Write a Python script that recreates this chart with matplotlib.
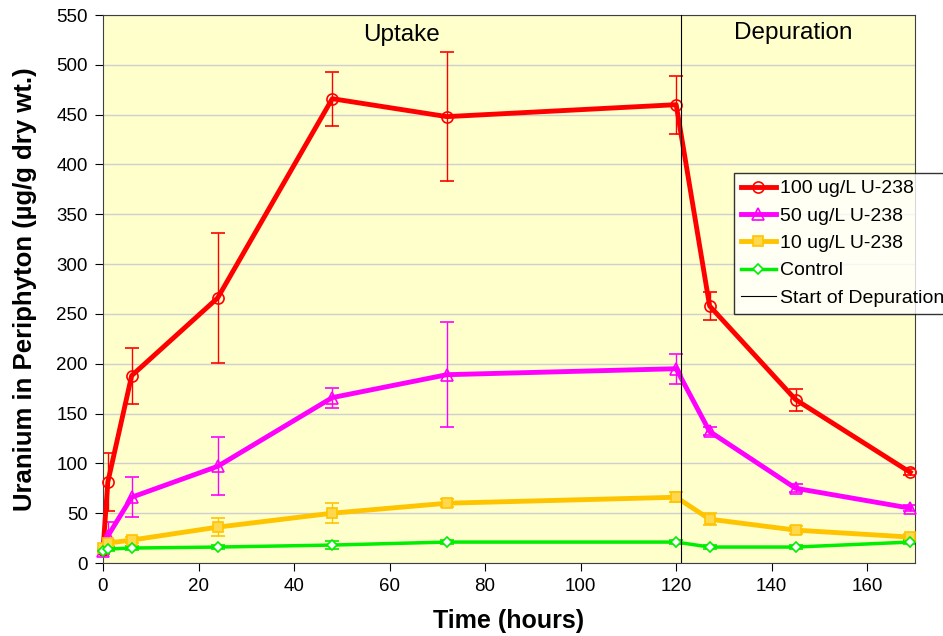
import numpy as np
import matplotlib.pyplot as plt

plt.rcParams['font.family'] = ['Liberation Sans', 'DejaVu Sans']

hours = [0, 1, 6, 24, 48, 72, 120, 127, 145, 169]

u100 = [13, 81, 188, 266, 466, 448, 460, 258, 164, 91]
u100_err = [3, 29, 28, 65, 27, 65, 29, 14, 11, 3]

u50 = [12, 27, 66, 97, 166, 189, 195, 132, 75, 55]
u50_err = [3, 14, 20, 29, 10, 53, 15, 4, 4, 3]

u10 = [15, 20, 23, 36, 50, 60, 66, 44, 33, 26]
u10_err = [2, 3, 3, 9, 10, 4, 5, 6, 4, 3]

control = [12, 14, 15, 16, 18, 21, 21, 16, 16, 21]
control_err = [2, 2, 2, 2, 4, 2, 2, 2, 2, 2]

depuration_start = 121

fig = plt.figure(figsize=(9.43, 6.36), dpi=100)
ax = fig.add_axes([103 / 943, 1 - 563 / 636, 812 / 943, 548 / 636])
ax.set_facecolor('#FFFFCC')

series = [
    (u100, u100_err, '#FF0000', 'o', 'none', 3.5, 8, '100 ug/L U-238'),
    (u50, u50_err, '#FF00FF', '^', 'none', 3.5, 8, '50 ug/L U-238'),
    (u10, u10_err, '#FFC400', 's', '#FFD84D', 3.5, 7, '10 ug/L U-238'),
    (control, control_err, '#00EE00', 'D', 'white', 2.5, 5, 'Control'),
]
handles = []
for vals, err, col, mk, mfc, lw, ms, lab in series:
    ax.errorbar(hours, vals, yerr=err, fmt='none', ecolor=col, elinewidth=1,
                capsize=5, capthick=1.2, zorder=2)
    h, = ax.plot(hours, vals, color=col, lw=lw, marker=mk, markersize=ms,
                 markerfacecolor=mfc, markeredgecolor=col, markeredgewidth=1.2,
                 label=lab, zorder=3, clip_on=False)
    handles.append(h)

vl = ax.axvline(depuration_start, color='black', lw=0.8, label='Start of Depuration', zorder=4)
handles.append(vl)

ax.set_xlim(0, 170)
ax.set_ylim(0, 550)
ax.set_xticks(range(0, 161, 20))
ax.set_yticks(range(0, 551, 50))
ax.yaxis.grid(True, color='#CFCFCF', lw=1)
ax.set_axisbelow(True)
ax.tick_params(labelsize=13.5, length=6, direction='out', pad=5)

for s in ax.spines.values():
    s.set_color('#404040')

ax.text(62.5, 530, 'Uptake', fontsize=17.5, ha='center', va='center')
ax.text(144.5, 532, 'Depuration', fontsize=17.5, ha='center', va='center')

ax.set_xlabel('Time (hours)', fontsize=18, fontweight='bold', labelpad=10)
ax.set_ylabel('Uranium in Periphyton (µg/g dry wt.)', fontsize=18.5, fontweight='bold', labelpad=14)

leg = fig.legend(handles=handles, loc='upper left',
                 bbox_to_anchor=(734 / 943, 1 - 173 / 636), fontsize=14,
                 frameon=True, fancybox=False, edgecolor='black',
                 handlelength=1.8, handletextpad=0.2, borderpad=0.35,
                 labelspacing=0.5, borderaxespad=0)
leg.get_frame().set_linewidth(1)

fig.savefig('out.png', dpi=100)
